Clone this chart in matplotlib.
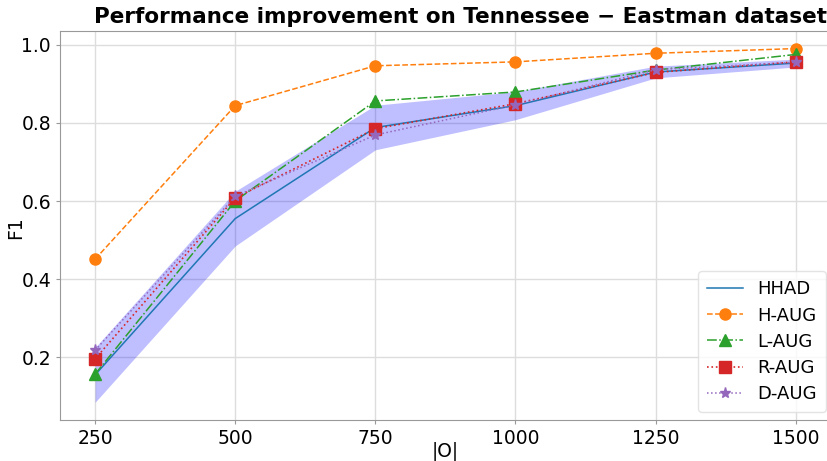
import matplotlib
matplotlib.use("Agg")
import matplotlib.pyplot as plt
import numpy as np

sizes = [250, 500, 750, 1000, 1250, 1500]

hhad_mean = [0.155, 0.555, 0.788, 0.844, 0.930, 0.953]
hhad_std = [0.070, 0.070, 0.057, 0.036, 0.015, 0.010]

h_aug = [0.451, 0.844, 0.946, 0.956, 0.978, 0.990]
l_aug = [0.157, 0.600, 0.856, 0.879, 0.935, 0.975]
r_aug = [0.196, 0.608, 0.785, 0.849, 0.929, 0.956]
d_aug = [0.218, 0.612, 0.769, 0.846, 0.936, 0.955]

series_labels = ["HHAD", "H-AUG", "L-AUG", "R-AUG", "D-AUG"]

fig = plt.figure(figsize=(8.27, 4.61), dpi=100)
ax = fig.add_axes([0.0726, 0.089, 0.932, 0.844])

x = np.array(sizes)
m = np.array(hhad_mean)
s = np.array(hhad_std)

ax.plot(x, m, color="tab:blue", lw=1.1, label=series_labels[0])
ax.fill_between(x, m - s, m + s, color="blue", alpha=0.25, lw=0)
ax.plot(x, h_aug, color="tab:orange", ls="--", lw=1.1, marker="o", ms=8,
        label=series_labels[1])
ax.plot(x, l_aug, color="tab:green", ls="-.", lw=1.1, marker="^", ms=8,
        label=series_labels[2])
ax.plot(x, r_aug, color="tab:red", ls=":", lw=1.2, marker="s", ms=8,
        label=series_labels[3])
ax.plot(x, d_aug, color="tab:purple", ls=":", lw=1.1, marker="*", ms=8,
        label=series_labels[4])

ax.set_xticks(sizes)
ax.set_xticklabels([str(v) for v in sizes])
ax.set_yticks([0.2, 0.4, 0.6, 0.8, 1.0])
ax.tick_params(labelsize=13.5, length=3, color="0.6")
ax.grid(True, color="#dddddd", lw=1)
ax.set_axisbelow(True)
for sp in ax.spines.values():
    sp.set_color("0.6")

ax.set_xlabel("|O|", fontsize=13.5)
ax.set_ylabel("F1", fontsize=13.5)
ax.xaxis.set_label_coords(0.5, -0.056)
ax.yaxis.set_label_coords(-0.045, 0.495)
ax.set_title("Performance improvement on Tennessee \u2212 Eastman dataset",
             fontsize=15.5, fontweight="bold", pad=6, x=0.519)

leg = ax.legend(loc="lower right", fontsize=13, framealpha=0.8,
                borderpad=0.5, handlelength=2.0, labelspacing=0.45,
                borderaxespad=0,
                bbox_to_anchor=(826 / 827, 49 / 461),
                bbox_transform=fig.transFigure)
leg.get_frame().set_edgecolor("#dddddd")

fig.savefig("out.png", dpi=100)
